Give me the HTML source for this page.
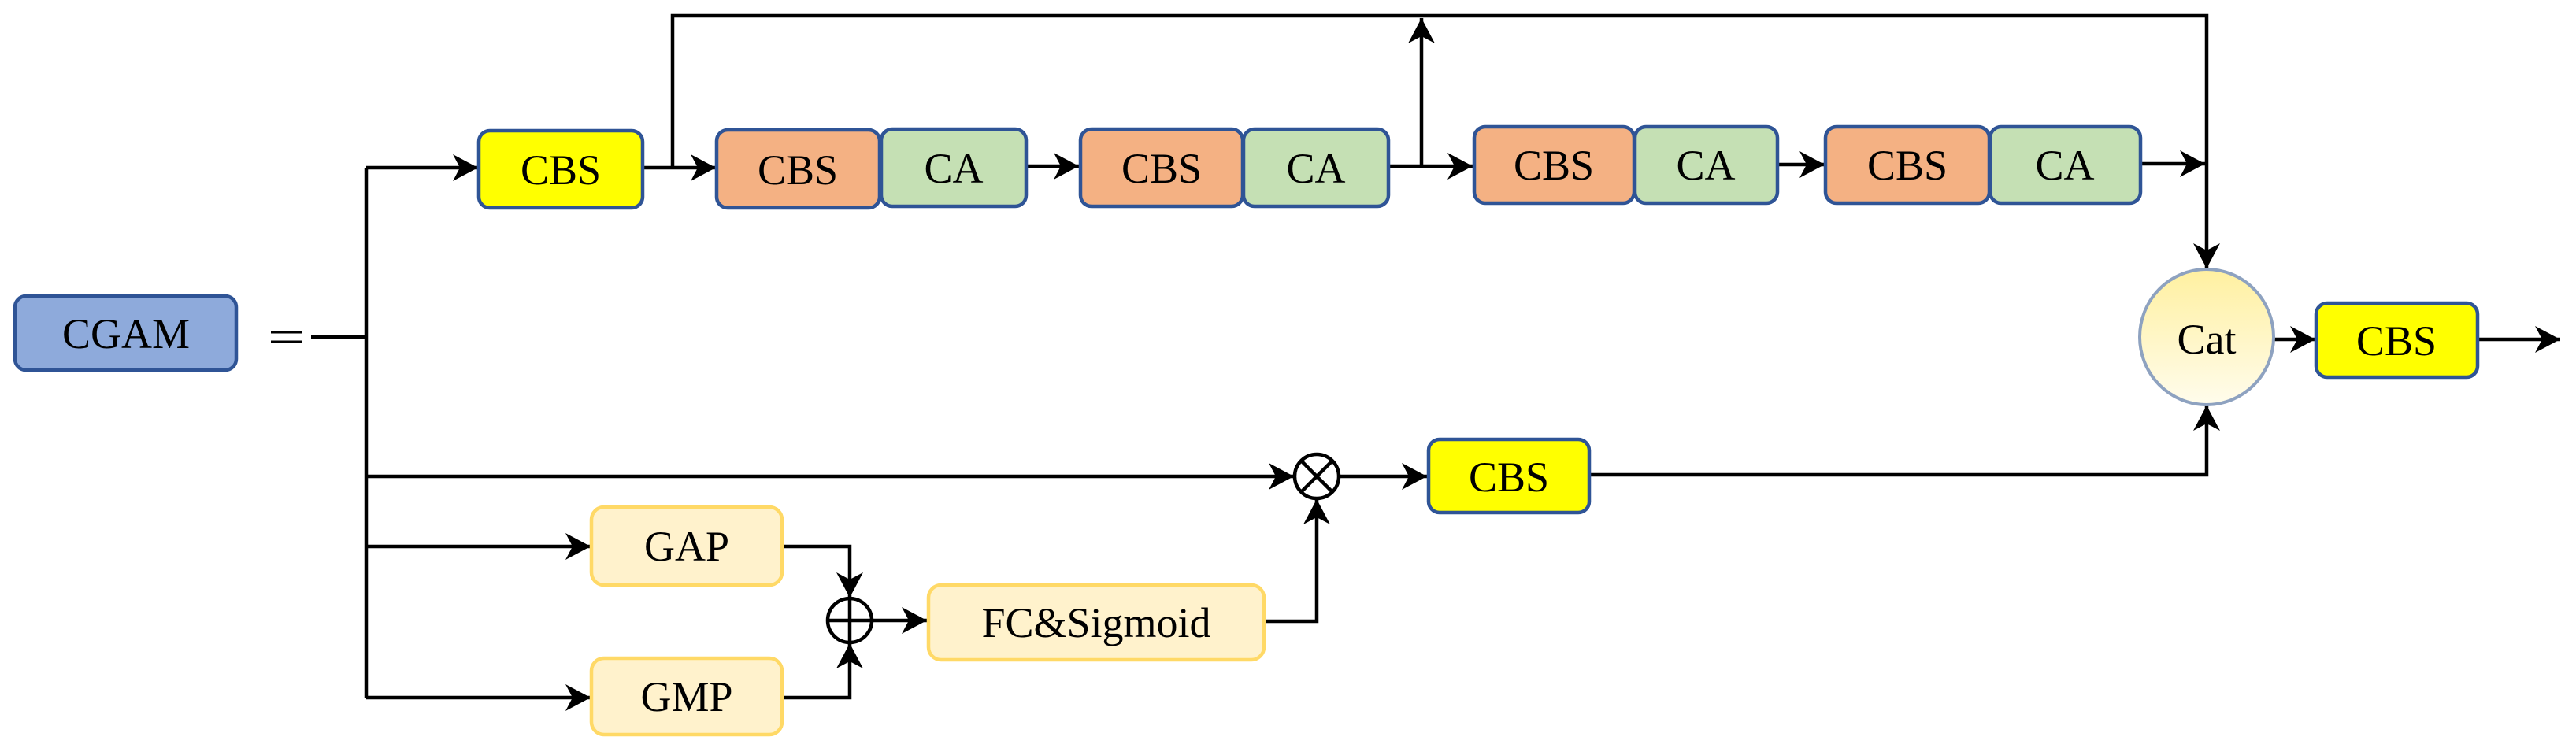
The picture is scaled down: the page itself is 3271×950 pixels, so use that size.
<!DOCTYPE html>
<html><head><meta charset="utf-8"><style>
html,body{margin:0;padding:0;background:#fff;}
svg{display:block;}
text{font-family:"Liberation Serif",serif;font-size:54px;fill:#000;text-anchor:middle;dominant-baseline:central;}
</style></head><body>
<svg width="3271" height="950" viewBox="0 0 3271 950" xmlns="http://www.w3.org/2000/svg">
<defs>
<marker id="a" markerUnits="userSpaceOnUse" markerWidth="34" markerHeight="36" refX="32" refY="17" orient="auto">
<path d="M0,0 L32,17 L0,34 L9,17 Z" fill="#000"/>
</marker>
<linearGradient id="cg" x1="0" y1="0" x2="0" y2="1">
<stop offset="0" stop-color="#fff0a0"/><stop offset="1" stop-color="#fffcec"/>
</linearGradient>
</defs>
<g fill="none" stroke="#000" stroke-width="4.5">
<line x1="344" y1="422" x2="384" y2="422" stroke-width="3"/>
<line x1="344" y1="434" x2="384" y2="434" stroke-width="3"/>
<line x1="395" y1="428" x2="465" y2="428"/>
<line x1="465" y1="213" x2="465" y2="886"/>
<line x1="465" y1="213" x2="607" y2="213" marker-end="url(#a)"/>
<line x1="816" y1="213" x2="909" y2="213" marker-end="url(#a)"/>
<polyline points="854,213 854,20 2802,20 2802,341" marker-end="url(#a)"/>
<line x1="1303" y1="211" x2="1370" y2="211" marker-end="url(#a)"/>
<line x1="1763" y1="211" x2="1870" y2="211" marker-end="url(#a)"/>
<line x1="1805" y1="211" x2="1805" y2="23" marker-end="url(#a)"/>
<line x1="2257" y1="209" x2="2317" y2="209" marker-end="url(#a)"/>
<line x1="2718" y1="208" x2="2800" y2="208" marker-end="url(#a)"/>
<line x1="465" y1="605" x2="1643" y2="605" marker-end="url(#a)"/>
<line x1="1700" y1="605" x2="1812" y2="605" marker-end="url(#a)"/>
<polyline points="2018,603 2802,603 2802,515" marker-end="url(#a)"/>
<line x1="465" y1="694" x2="750" y2="694" marker-end="url(#a)"/>
<line x1="465" y1="886" x2="750" y2="886" marker-end="url(#a)"/>
<polyline points="993,694 1079,694 1079,759" marker-end="url(#a)"/>
<polyline points="993,886 1079,886 1079,817" marker-end="url(#a)"/>
<line x1="1107" y1="788" x2="1177" y2="788" marker-end="url(#a)"/>
<polyline points="1605,789 1672,789 1672,634" marker-end="url(#a)"/>
<circle cx="1079" cy="788" r="28" fill="#fff"/>
<line x1="1051" y1="788" x2="1107" y2="788"/>
<line x1="1079" y1="760" x2="1079" y2="816"/>
<circle cx="1672" cy="605" r="28" fill="#fff"/>
<line x1="1652" y1="585" x2="1692" y2="625"/>
<line x1="1692" y1="585" x2="1652" y2="625"/>
<line x1="2887" y1="431" x2="2940" y2="431" marker-end="url(#a)"/>
<line x1="3146" y1="431" x2="3251" y2="431" marker-end="url(#a)"/>
</g>
<g stroke="#2f5496" stroke-width="4.5">
<rect x="19" y="376" width="281" height="94" rx="14" fill="#8eaadb"/>
<rect x="608" y="166" width="208" height="98" rx="14" fill="#ffff00"/>
<rect x="910" y="165" width="207" height="99" rx="14" fill="#f4b183"/>
<rect x="1119" y="164" width="184" height="98" rx="14" fill="#c5e0b4"/>
<rect x="1372" y="164" width="206" height="98" rx="14" fill="#f4b183"/>
<rect x="1579" y="164" width="184" height="98" rx="14" fill="#c5e0b4"/>
<rect x="1872" y="161" width="203" height="97" rx="14" fill="#f4b183"/>
<rect x="2076" y="161" width="181" height="97" rx="14" fill="#c5e0b4"/>
<rect x="2318" y="161" width="208" height="97" rx="14" fill="#f4b183"/>
<rect x="2527" y="161" width="191" height="97" rx="14" fill="#c5e0b4"/>
<rect x="1814" y="558" width="204" height="93" rx="14" fill="#ffff00"/>
<rect x="2941" y="385" width="205" height="94" rx="14" fill="#ffff00"/>
</g>
<g stroke="#ffd966" stroke-width="4.5" fill="#fff2cc">
<rect x="751" y="644" width="242" height="99" rx="16"/>
<rect x="751" y="836" width="242" height="97" rx="16"/>
<rect x="1179" y="743" width="426" height="95" rx="16"/>
</g>
<ellipse cx="2802" cy="428" rx="85" ry="86" fill="url(#cg)" stroke="#8ea2c0" stroke-width="4"/>
<text x="160" y="424">CGAM</text>
<text x="712" y="216">CBS</text>
<text x="1013" y="216">CBS</text>
<text x="1211" y="214">CA</text>
<text x="1475" y="214">CBS</text>
<text x="1671" y="214">CA</text>
<text x="1973" y="210">CBS</text>
<text x="2166" y="210">CA</text>
<text x="2422" y="210">CBS</text>
<text x="2622" y="210">CA</text>
<text x="1916" y="606">CBS</text>
<text x="3043" y="433">CBS</text>
<text x="2802" y="431">Cat</text>
<text x="872" y="694">GAP</text>
<text x="872" y="885">GMP</text>
<text x="1392" y="791">FC&amp;Sigmoid</text>
</svg>
</body></html>
